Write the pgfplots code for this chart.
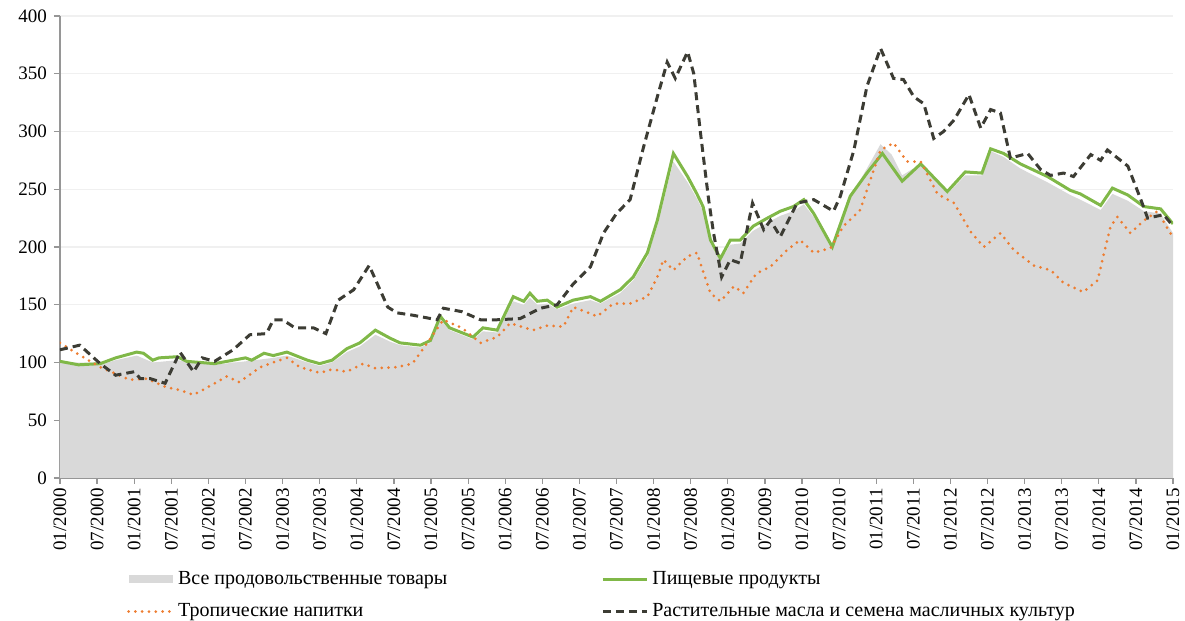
\documentclass[border=0pt]{standalone}
\usepackage{fontspec}
\setmainfont{Liberation Serif}
\usepackage{pgfplots}
\pgfplotsset{compat=1.18}
\definecolor{areagray}{RGB}{217,217,217}
\definecolor{foodgreen}{RGB}{128,184,72}
\definecolor{troporange}{RGB}{237,125,49}
\definecolor{oildark}{RGB}{60,60,52}
\definecolor{axgray}{RGB}{150,150,150}
\pgfplotsset{lineleg/.style={legend image code/.code={\draw[##1] (0pt,0pt) -- (22pt,0pt);}},
  arealeg/.style={legend image code/.code={\fill[areagray] (0pt,-2pt) rectangle (22pt,2pt);}}}

\pgfplotstableread{
t v
0 100
3 97
6.5 98
9 102
12.4 106
15 100
19 102
25 98
30 101
34.5 104
36.7 106
40 100
42 97
44 100
46.4 109
48.5 114
51 124
53.4 118
55 115
58.3 113
59.9 117
61.5 137
63 128
66.8 120
68.4 127
70.7 126
73.3 153
75 150
76 156
77.2 150
78.8 151
80.4 146
83 151
85.8 154
87.4 151
90.6 160
92.7 171
95 191
96.6 218
99.2 274
101.5 256
103 242
104 231
105.2 203
106.8 188
108.4 202
110 203
112.1 214
114.4 221
116.5 227
118.6 231
120.3 237
121.9 226
124.9 198
127.8 243
130.5 268
132.7 289
134.5 280
136.2 262
139.2 272
143.5 246
146.4 262
149.1 262
150.5 283
152.6 278
155.3 268
159.7 256
163.4 245
165 241
168.3 232
170.2 246
172.7 240
175.3 231
178 229
180 212
}\allfood

\pgfplotstableread{
t v
0 101
3 98
6.5 99
9 104
12.4 109
13.5 108
15 102
16 104
19 105
20.5 101
25 99
30 104
31 102
33 108
34.5 106
36.7 109
40 102
42 99
44 102
46.4 112
48.5 117
51 128
53.4 121
55 117
58.3 115
59.9 119
61.5 140
63 130
66.8 122
68.4 130
70.7 128
73.3 157
75 153
76 160
77.2 153
78.8 154
80.4 148
83 154
85.8 157
87.4 153
90.6 163
92.7 174
95 195
96.6 223
99.2 281
101.5 261
103 246
104 235
105.2 206
106.8 190
108.4 206
110 206
112.1 218
114.4 225
116.5 231
118.6 235
120.3 241
121.9 229
124.9 200
127.8 244
130.5 264
133 281
136.2 257
139.2 272
143.5 248
146.4 265
149.1 264
150.5 285
152.6 281
155.3 272
159.7 261
163.4 249
165 246
168.3 236
170.2 251
172.7 245
175.3 235
178 233
180 220
}\food

\pgfplotstableread{
t v
0 117
2.7 108
6.5 96
11.3 85
14 86
17 79
19.4 76
21.6 72
23.7 78
27 88
29 83
32.4 96
35 101
36.7 104
38.8 96
42 91
44 94
46.4 92
49 99
51 95
54.5 96
57 99
59.4 117
62 137
65 130
68 117
70.7 122
72.8 134
76.5 128
78.8 132
81.4 131
83 148
86.9 140
89.5 151
92.2 151
95 157
96.6 174
97.6 189
99.2 180
101.5 192
103 195
105.2 160
106.8 153
109 166
110.5 160
112.6 177
114.9 183
117.5 197
119.7 206
121.9 195
124.6 199
126.7 218
129.4 232
132.7 284
134.8 290
137 274
139.2 274
141.9 246
144.6 238
147.3 213
149.4 200
152.1 212
154.3 197
157.5 184
160.2 180
162.3 169
165.5 161
167.8 171
169.9 218
171 226
173.1 212
175.3 223
177.5 231
180 208
}\tropical

\pgfplotstableread{
t v
0 111
3.2 115
6.5 99
9 89
12 92
13 86
14.6 86
17 82
19.4 109
21.6 92
23 104
25 101
28 111
30.7 124
33.4 125
34.5 137
36 137
38 130
41 130
43 125
45 154
47.5 163
50 184
53 148
54.5 143
57 141
61 137
62 147
65 144
68 137
70.7 137
74.4 138
77.7 147
80.4 150
83 168
85.8 183
87.9 212
90 229
92.2 241
94.4 287
96.6 330
98.2 360
99.5 346
101.5 369
102.5 350
103.6 298
104.9 241
105.7 212
107 174
108.4 189
110 186
112 238
113.8 215
114.9 223
116.5 209
119.2 238
121.9 241
125.1 231
126.2 244
128.4 284
130.5 339
132.7 372
134.8 346
136.4 345
138.1 330
139.7 324
141.3 294
142.9 300
144.6 310
147 332
148.9 303
150.5 319
152.1 316
153.7 277
156.5 281
158.6 267
160.2 262
162.3 264
163.9 261
166.7 280
168.3 275
169.4 284
172.7 270
174.8 241
175.9 225
178.5 228
180 218
}\oils

\begin{document}
\begin{tikzpicture}
\useasboundingbox (-30pt,-71.5pt) rectangle (562.5pt,239pt);
\begin{axis}[
  scale only axis,
  width=556.5pt, height=231pt,
  xmin=0, xmax=180, ymin=0, ymax=400,
  axis x line*=bottom, axis y line*=left,
  axis line style={axgray, line width=0.8pt},
  tick style={axgray, line width=0.6pt},
  tick align=outside,
  major tick length=3pt,
  xtick={0,6,...,180},
  xticklabels={01/2000,07/2000,01/2001,07/2001,01/2002,07/2002,01/2003,07/2003,01/2004,07/2004,01/2005,07/2005,01/2006,07/2006,01/2007,07/2007,01/2008,07/2008,01/2009,07/2009,01/2010,07/2010,01/2011,07/2011,01/2012,07/2012,01/2013,07/2013,01/2014,07/2014,01/2015},
  xticklabel style={rotate=90, anchor=east, font=\fontsize{9.5}{10}\selectfont, inner sep=2pt},
  ytick={0,50,...,400},
  yticklabel style={font=\fontsize{9.5}{10}\selectfont},
  /pgf/number format/assume math mode=true,
  ymajorgrids,
  grid style={gray!12, line width=0.6pt},
  legend columns=2,
  legend cell align=left,
  legend style={draw=none, fill=none, at={(axis description cs:0.0545,-0.184)}, anchor=north west,
    font=\fontsize{10}{12}\selectfont, row sep=4pt,
    /tikz/every even column/.append style={column sep=75pt}},
]
\addplot[fill=areagray, draw=none, arealeg]
  table[x=t,y=v] {\allfood} \closedcycle;
\addlegendentry{Все продовольственные товары}
\addplot[foodgreen, line width=1.5pt, lineleg]
  table[x=t,y=v] {\food};
\addlegendentry{Пищевые продукты}
\addplot[troporange, line width=1.5pt, line cap=round, dash pattern=on 0pt off 3.4pt, lineleg]
  table[x=t,y=v] {\tropical};
\addlegendentry{Тропические напитки}
\addplot[oildark, line width=1.5pt, dash pattern=on 4pt off 2.5pt, lineleg]
  table[x=t,y=v] {\oils};
\addlegendentry{Растительные масла и семена масличных культур}
\end{axis}
\end{tikzpicture}
\end{document}
